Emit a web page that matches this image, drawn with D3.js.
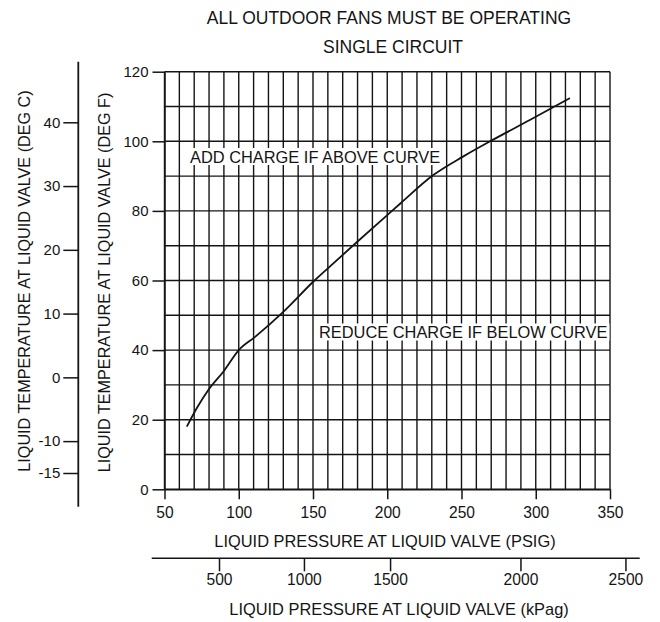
<!DOCTYPE html>
<html><head><meta charset="utf-8">
<script src="https://cdn.jsdelivr.net/npm/d3@7"></script>
<style>
html,body{margin:0;padding:0;background:#fff;}
svg{display:block;font-family:"Liberation Sans",Arial,Helvetica,sans-serif;}
</style></head><body>
<svg id="chart" width="660" height="622"></svg>
<script>
// Charging curve: liquid pressure (PSIG) against liquid temperature (deg F)
const pressurePsig = [65, 72, 80, 90, 100, 111, 130, 151, 160, 180, 200, 209, 231, 251, 271, 296, 323];
const tempF        = [18, 23.5, 28.8, 34, 40, 43.8, 51, 60, 63.5, 71.2, 78.8, 82.2, 90.3, 95.6, 100.4, 106.1, 112.4];

// Axis ticks
const psigTicks = [50, 100, 150, 200, 250, 300, 350];
const degFTicks = [0, 20, 40, 60, 80, 100, 120];
const degCTicks = [-15, -10, 0, 10, 20, 30, 40];
const kpagTicks = [500, 1000, 1500, 2000, 2500];
// where each kPag tick sits along the PSIG scale
const kpagTickAtPsig = [86.7, 143.9, 201.9, 289.7, 360.4];

const svg = d3.select("#chart");
const ink = "#141414";

const x = d3.scaleLinear().domain([50, 350]).range([164.5, 610]);
const y = d3.scaleLinear().domain([0, 120]).range([489.3, 71.7]);
const yC = d3.scaleLinear().domain([-15, 40]).range([473, 122.3]);
const kpaX = d3.scaleLinear().domain(kpagTicks).range(kpagTickAtPsig.map(x));

// grid: every 10 psi and every 10 deg F
const grid = svg.append("g").attr("stroke", ink).attr("stroke-width", 1.4);
grid.selectAll("line.v").data(d3.range(50, 351, 10)).join("line")
  .attr("class", "v")
  .attr("x1", d => x(d)).attr("x2", d => x(d))
  .attr("y1", y(0)).attr("y2", y(120));
grid.selectAll("line.h").data(d3.range(0, 121, 10)).join("line")
  .attr("class", "h")
  .attr("x1", x(50)).attr("x2", x(350))
  .attr("y1", d => y(d)).attr("y2", d => y(d));

function styleAxis(g, size) {
  g.selectAll("path.domain").attr("stroke", ink).attr("stroke-width", 1.5);
  g.selectAll(".tick line").attr("stroke", ink).attr("stroke-width", 1.5);
  g.selectAll(".tick text").attr("fill", ink).attr("font-size", size)
    .attr("font-family", '"Liberation Sans",Arial,Helvetica,sans-serif');
}

// deg F axis
svg.append("g").attr("transform", `translate(${x(50)},0)`)
  .call(d3.axisLeft(y).tickValues(degFTicks).tickSize(12).tickSizeOuter(0).tickPadding(4))
  .call(g => styleAxis(g, 15));

// PSIG axis
svg.append("g").attr("transform", `translate(0,${y(0)})`)
  .call(d3.axisBottom(x).tickValues(psigTicks).tickSize(10).tickSizeOuter(0).tickPadding(8))
  .call(g => styleAxis(g, 15.6));

// kPag axis
const kg = svg.append("g").attr("transform", "translate(0,558.3)");
kg.call(d3.axisBottom(kpaX).tickValues(kpagTicks).tickSize(13).tickSizeOuter(0).tickPadding(3).tickFormat(d => String(d)))
  .call(g => g.select("path.domain").remove())
  .call(g => styleAxis(g, 15.6));
kg.append("line").attr("x1", x(41.4)).attr("x2", x(370)).attr("y1", 0).attr("y2", 0)
  .attr("stroke", ink).attr("stroke-width", 1.5);

// deg C axis
const cg = svg.append("g").attr("transform", "translate(78.3,0)");
cg.call(d3.axisLeft(yC).tickValues(degCTicks).tickSize(15).tickSizeOuter(0).tickPadding(3).tickFormat(d => String(d)))
  .call(g => g.select("path.domain").remove())
  .call(g => styleAxis(g, 15));
cg.append("line").attr("x1", 0).attr("x2", 0).attr("y1", yC(49.5)).attr("y2", yC(-20.3))
  .attr("stroke", ink).attr("stroke-width", 1.8);

// labelled regions with white backing
function boxedLabel(text, px, baseline) {
  const g = svg.append("g");
  const r = g.append("rect").attr("fill", "#fff");
  const t = g.append("text").attr("x", px).attr("y", baseline)
    .attr("font-size", 16.4).attr("fill", ink).text(text);
  const b = t.node().getBBox();
  r.attr("x", b.x - 3).attr("y", b.y + 0.5).attr("width", b.width + 5).attr("height", b.height - 1);
}
boxedLabel("ADD CHARGE IF ABOVE CURVE", 190, 162.5);
boxedLabel("REDUCE CHARGE IF BELOW CURVE", 319, 338);

// charging curve
svg.append("path")
  .datum(d3.zip(pressurePsig, tempF))
  .attr("fill", "none").attr("stroke", ink).attr("stroke-width", 1.8)
  .attr("stroke-linejoin", "round")
  .attr("d", d3.line().x(d => x(d[0])).y(d => y(d[1])).curve(d3.curveMonotoneX));

// titles
const txt = (s, px, py, size, extra) => {
  const t = svg.append("text").attr("x", px).attr("y", py).attr("font-size", size)
    .attr("fill", ink).attr("text-anchor", "middle").text(s);
  if (extra) t.attr("transform", extra);
  return t;
};
txt("ALL OUTDOOR FANS MUST BE OPERATING", 389, 24, 17.5);
txt("SINGLE CIRCUIT", 393, 53, 17.5);
txt("LIQUID PRESSURE AT LIQUID VALVE (PSIG)", 385, 546.5, 16.4);
txt("LIQUID PRESSURE AT LIQUID VALVE (kPag)", 399, 615, 16.4);
txt("LIQUID TEMPERATURE AT LIQUID VALVE (DEG C)", 0, 0, 16.2, "translate(29.5,281) rotate(-90)");
txt("LIQUID TEMPERATURE AT LIQUID VALVE (DEG F)", 0, 0, 16.2, "translate(110,282.5) rotate(-90)");
</script>
</body></html>
